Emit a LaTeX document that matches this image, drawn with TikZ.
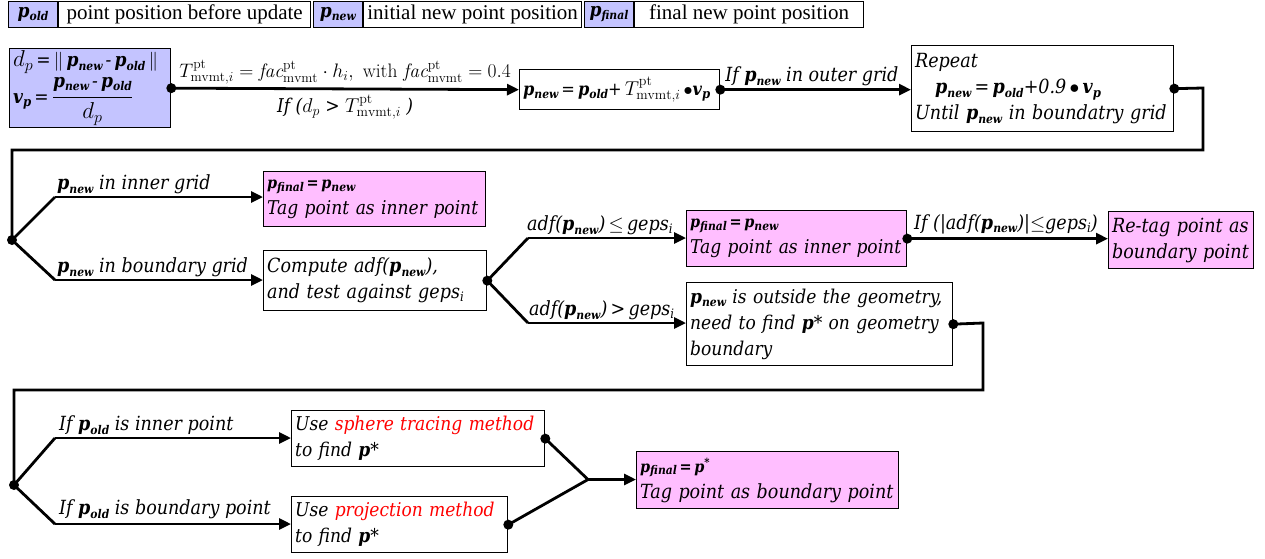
\RequirePackage{fix-cm}
\documentclass[tikz,border=0pt]{standalone}
\usepackage{fontspec}
\usetikzlibrary{arrows.meta}
\newfontfamily\gf{DejaVu Serif Condensed}
\newfontfamily\tf{Liberation Serif}
\definecolor{lblue}{RGB}{196,196,255}
\definecolor{lpink}{RGB}{255,190,255}
\definecolor{lred}{RGB}{255,0,0}
\newcommand\pp[1]{\textbf{\textit{p}}\raisebox{-0.35ex}{\fontsize{12}{12}\selectfont\textbf{\textit{#1}}}}
\newcommand\vvp{\textbf{\textit{v}}\raisebox{-0.35ex}{\fontsize{13}{13}\selectfont\textbf{\textit{p}}}}
\newcommand\Tm{{\fontsize{20}{20}\selectfont$T^{\mathrm{pt}}_{\mathrm{mvmt},i}$}}
\newcommand\dpm[1]{{\fontsize{#1}{#1}\selectfont$d_p$}}
\newcommand\gps{geps\raisebox{-0.3ex}{\fontsize{13}{13}\selectfont\textit{i}}}
\tikzset{
  box/.style={draw, line width=1.3pt, anchor=north west, inner xsep=3.5pt, inner ysep=0pt, align=left,
    font=\gf\itshape\fontsize{19.5}{26}\selectfont},
  bluebox/.style={box, fill=lblue},
  pinkbox/.style={box, fill=lpink},
  lgd/.style={draw, line width=1.1pt, anchor=north west, inner sep=0pt, minimum height=26pt, align=center},
  conn/.style={line width=2.8pt, -{Triangle[length=12pt,width=11pt]}},
  plain/.style={line width=2.8pt, line join=miter},
  lbl/.style={font=\gf\itshape\fontsize{19.5}{22}\selectfont, anchor=south west, inner sep=1pt},
  dotc/.style={fill=black}
}
\begin{document}
\begin{tikzpicture}[x=1pt,y=-1pt]
\useasboundingbox (0,0) rectangle (1265,558);
% legend
\node[lgd, fill=lblue, minimum width=49pt, font=\gf\fontsize{19}{20}\selectfont] (l1) at (8,0.7) {\pp{old}};
\node[lgd, minimum width=252pt, font=\tf\fontsize{21}{22}\selectfont] (l2) at (l1.north east) {point position before update};
\node[lgd, fill=lblue, minimum width=49pt, font=\gf\fontsize{19}{20}\selectfont] (l3) at (313,0.7) {\pp{new}};
\node[lgd, minimum width=218pt, font=\tf\fontsize{21}{22}\selectfont] (l4) at (l3.north east) {initial new point position};
\node[lgd, fill=lblue, minimum width=49pt, font=\gf\fontsize{19}{20}\selectfont] (l5) at (584,0.7) {\pp{final}};
\node[lgd, minimum width=229pt, font=\tf\fontsize{21}{22}\selectfont] (l6) at (l5.north east) {final new point position};

% row 1
\node[bluebox, text width=154pt, minimum height=79pt, font=\gf\itshape\fontsize{19}{22}\selectfont] (A) at (9,48)
 {\dpm{23}\,=\,$\|$\,\pp{new}\,-\,\pp{old}\,$\|$\\[3pt]
  \vvp\,=\,{\fontsize{23}{23}\selectfont$\displaystyle\frac{\hbox{\fontsize{19}{20}\selectfont\pp{new}\,-\,\pp{old}}}{d_p}$}};
\node[box, text width=193pt, minimum height=40pt, font=\gf\itshape\fontsize{18}{22}\selectfont] (B) at (519,69)
 {\pp{new}\,=\,\pp{old}+\,\Tm\,$\bullet$\vvp};
\node[box, text width=255pt, minimum height=86pt] (C) at (911,45)
 {Repeat\\
  \hspace*{20pt}\pp{new}\,=\,\pp{old}+0.9\,$\bullet$\,\vvp\\
  Until \pp{new} in boundatry grid};
\draw[conn] (A.east) -- node[above=0pt, font=\fontsize{19.5}{20}\selectfont]
  {$T^{\mathrm{pt}}_{\mathrm{mvmt},i}=\mathit{fac}^{\mathrm{pt}}_{\mathrm{mvmt}}\cdot h_i,\ \mathrm{with}\ \mathit{fac}^{\mathrm{pt}}_{\mathrm{mvmt}}=0.4$}
  node[below=1pt, font=\gf\itshape\fontsize{19}{20}\selectfont] {If (\dpm{20} > \Tm\ )} (B.west);
\draw[conn] (B.east) -- node[above=-1pt, pos=0.48, font=\gf\itshape\fontsize{19.5}{20}\selectfont] {If \pp{new} in outer grid} (B.east -| C.west);
\coordinate (c1) at (1203,88);
\coordinate (c2) at (1203,150);
\coordinate (c3) at (12,150);
\coordinate (b0) at (12,240);
\draw[plain] (C.east) -- (c1) -- (c2) -- (c3) -- (b0);

% row 2
\node[pinkbox, text width=215pt, minimum height=55pt] (D) at (263,171)
 {{\fontsize{16}{16}\selectfont\textbf{\pp{final}\,=\,\pp{new}}}\\ \mbox{\fontsize{19}{26}\selectfont Tag point as inner point}};
\node[box, text width=216pt, minimum height=60pt] (E) at (263,250)
 {Compute adf(\pp{new}),\\ and test against \gps};
\coordinate (b1) at (55,197);
\coordinate (b2) at (55,280);
\draw[plain] (b0) -- (b1);
\draw[conn] (b1) -- (b1 -| D.west);
\draw[plain] (b0) -- (b2);
\draw[conn] (b2) -- (b2 -| E.west);
\node[lbl] (t1) at (56,195) {\pp{new} in inner grid};
\node[lbl] (t2) at (56,278) {\pp{new} in boundary grid};

\node[pinkbox, text width=213pt, minimum height=56pt] (F) at (686,210)
 {{\fontsize{16}{16}\selectfont\textbf{\pp{final}\,=\,\pp{new}}}\\ \mbox{\fontsize{19}{26}\selectfont Tag point as inner point}};
\node[pinkbox, text width=138pt, minimum height=57pt] (G) at (1108,211)
 {Re-tag point as\\ boundary point};
\node[box, text width=259pt, minimum height=83pt, font=\gf\itshape\fontsize{19}{26}\selectfont] (H) at (686,282)
 {\pp{new} is outside the geometry,\\ need to find \textbf{\textit{p}}* on geometry\\ boundary};
\coordinate (e1) at (528,238);
\coordinate (e2) at (528,323);
\draw[plain] (E.east) -- (e1);
\draw[conn] (e1) -- (e1 -| F.west);
\draw[plain] (E.east) -- (e2);
\draw[conn] (e2) -- (e2 -| H.west);
\node[lbl] (t3) at (526,236) {adf(\pp{new})\,$\le$\,\gps};
\node[lbl] (t4) at (528,321) {adf(\pp{new})\,>\,\gps};
\draw[conn] (F.east) -- (F.east -| G.west);
\node[lbl] (t5) at (913,235) {If (|adf(\pp{new})|$\le$\gps)};
\coordinate (h1) at (983,323);
\coordinate (h2) at (983,390);
\coordinate (h3) at (14,390);
\coordinate (r0) at (14,485);
\draw[plain] (H.east) -- (h1) -- (h2) -- (h3) -- (r0);

% row 3
\node[box, text width=246pt, minimum height=56pt, font=\gf\itshape\fontsize{19}{26}\selectfont] (I) at (291,410)
 {Use \textcolor{lred}{sphere tracing method}\\ to find \textbf{\textit{p}}*};
\node[box, text width=209pt, minimum height=56pt, font=\gf\itshape\fontsize{19}{26}\selectfont] (J) at (291,496)
 {Use \textcolor{lred}{projection method}\\ to find \textbf{\textit{p}}*};
\node[pinkbox, text width=255pt, minimum height=57pt] (K) at (636,451)
 {{\fontsize{16}{16}\selectfont\textbf{\pp{final}\,=\,\textbf{\textit{p}}\textsuperscript{*}}}\\ Tag point as boundary point};
\coordinate (r1) at (55,438);
\coordinate (r2) at (55,524);
\draw[plain] (r0) -- (r1);
\draw[conn] (r1) -- (r1 -| I.west);
\draw[plain] (r0) -- (r2);
\draw[conn] (r2) -- (r2 -| J.west);
\node[lbl] (t6) at (58,436) {If \pp{old} is inner point};
\node[lbl] (t7) at (58,520) {If \pp{old} is boundary point};
\coordinate (m) at (588,479.5);
\draw[plain] (I.east) -- (m);
\draw[plain] (J.east) -- (m);
\draw[conn] (m) -- (m -| K.west);

% dots
\foreach \p in {A.east,B.east,C.east,b0,E.east,F.east,H.east,r0,I.east,J.east}
  \fill[dotc] (\p) circle (5pt);
\end{tikzpicture}
\end{document}
